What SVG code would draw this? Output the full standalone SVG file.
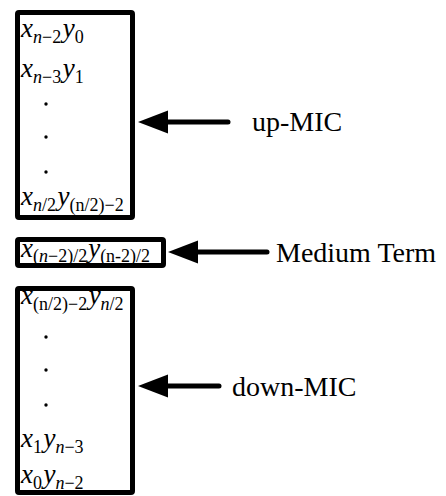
<svg xmlns="http://www.w3.org/2000/svg" width="446" height="496" viewBox="0 0 446 496">
<style>
.box{fill:#fff;stroke:#000;stroke-width:5;stroke-linejoin:round}
.m{font-family:"Liberation Serif","Times New Roman",serif;font-size:27px;fill:#000}
.i{font-style:italic}
.s{font-size:18px;font-style:normal}
.si{font-size:18px;font-style:italic}
.lbl{font-family:"Liberation Serif","Times New Roman",serif;font-size:28px;fill:#000}
.dot{fill:#000}
.conn{stroke:#000;stroke-width:5;stroke-linecap:round;fill:none}
</style>
<defs>
<marker id="ah" markerUnits="userSpaceOnUse" markerWidth="32" markerHeight="24" refX="0" refY="11.5" orient="auto">
<path d="M0,0 L30,11.5 L0,23 z" fill="#000"/>
</marker>
</defs>
<rect x="0" y="0" width="446" height="496" fill="#fff"/>
<g id="up-mic">
<rect class="box" x="17.5" y="12.5" width="115" height="205" rx="1.5"/>
<text class="m" x="21" y="37"><tspan class="i">x</tspan><tspan class="si" dy="6">n</tspan><tspan class="s">−2</tspan><tspan class="i" dy="-6" dx="1.5">y</tspan><tspan class="s" dy="6">0</tspan></text>
<text class="m" x="21" y="77"><tspan class="i">x</tspan><tspan class="si" dy="6">n</tspan><tspan class="s">−3</tspan><tspan class="i" dy="-6" dx="1.5">y</tspan><tspan class="s" dy="6">1</tspan></text>
<circle class="dot" cx="46" cy="104" r="1.7"/>
<circle class="dot" cx="46" cy="137" r="1.7"/>
<circle class="dot" cx="46" cy="172" r="1.7"/>
<text class="m" x="21" y="205"><tspan class="i">x</tspan><tspan class="si" dy="6">n</tspan><tspan class="s">/2</tspan><tspan class="i" dy="-6" dx="1.5">y</tspan><tspan class="s" dy="6">(n/2)−2</tspan></text>
</g>
<g id="medium">
<rect class="box" x="17.5" y="239.5" width="146" height="26" rx="1.5"/>
<text class="m" x="21" y="257"><tspan class="i">x</tspan><tspan class="s" dy="5">(</tspan><tspan class="si">n</tspan><tspan class="s">−2)/2</tspan><tspan class="i" dy="-5" dx="1">y</tspan><tspan class="s" dy="5">(n-2)/2</tspan></text>
</g>
<g id="down-mic">
<rect class="box" x="17.5" y="288.5" width="115" height="204" rx="1.5"/>
<text class="m" x="21" y="304"><tspan class="i">x</tspan><tspan class="s" dy="6">(n/2)−2</tspan><tspan class="i" dy="-6" dx="1.5">y</tspan><tspan class="si" dy="6">n</tspan><tspan class="s">/2</tspan></text>
<circle class="dot" cx="46" cy="337" r="1.7"/>
<circle class="dot" cx="46" cy="370" r="1.7"/>
<circle class="dot" cx="46" cy="405" r="1.7"/>
<text class="m" x="21" y="447"><tspan class="i">x</tspan><tspan class="s" dy="6">1</tspan><tspan class="i" dy="-6" dx="1.5">y</tspan><tspan class="si" dy="6">n</tspan><tspan class="s">−3</tspan></text>
<text class="m" x="21" y="483"><tspan class="i">x</tspan><tspan class="s" dy="6">0</tspan><tspan class="i" dy="-6" dx="1.5">y</tspan><tspan class="si" dy="6">n</tspan><tspan class="s">−2</tspan></text>
</g>
<g id="connectors">
<line class="conn" x1="228" y1="122" x2="168" y2="122" marker-end="url(#ah)"/>
<line class="conn" x1="267" y1="252" x2="198" y2="252" marker-end="url(#ah)"/>
<line class="conn" x1="219" y1="386" x2="168" y2="386" marker-end="url(#ah)"/>
</g>
<g id="labels">
<text class="lbl" x="252" y="131">up-MIC</text>
<text class="lbl" x="276" y="262">Medium Term</text>
<text class="lbl" x="232" y="396">down-MIC</text>
</g>
</svg>
